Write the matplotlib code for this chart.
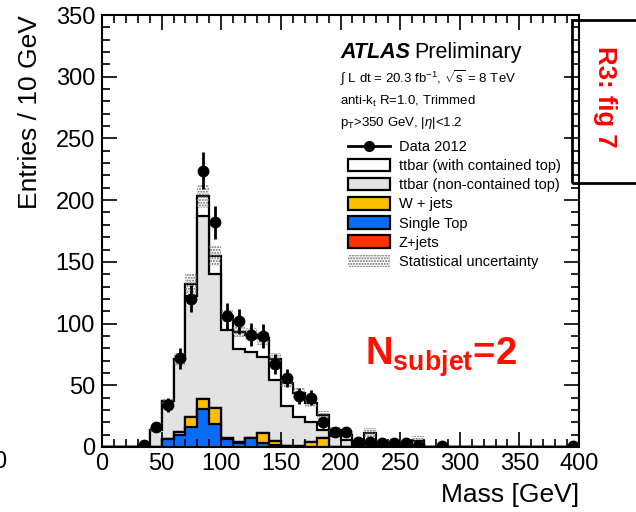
import numpy as np
import matplotlib
matplotlib.use("Agg")
import matplotlib.pyplot as plt
from matplotlib.patches import Patch, Rectangle
from matplotlib.lines import Line2D
from matplotlib.ticker import MultipleLocator

plt.rcParams['font.family'] = ['Liberation Sans', 'DejaVu Sans']
plt.rcParams['mathtext.fontset'] = 'custom'
plt.rcParams['mathtext.rm'] = 'Liberation Sans'
plt.rcParams['mathtext.it'] = 'Liberation Sans:italic'
plt.rcParams['mathtext.bf'] = 'Liberation Sans:bold'
plt.rcParams['hatch.linewidth'] = 1.0

# ---- data (10 GeV bins, 0-400 GeV) ----
edges = np.arange(0, 410, 10)

data_2012 = [0, 0, 0, 2, 16, 34, 72, 120, 224, 182,
             106, 102, 91, 90, 67, 56, 41, 40, 20, 12,
             12, 4, 4, 3, 3, 3, 1, 0, 1, 0,
             0, 0, 0, 0, 0, 0, 0, 0, 0, 1]

single_top = [0, 0, 0, 0, 0, 6.5, 10, 16.5, 31, 19,
              6.5, 3.5, 7, 3, 2, 0.5, 0, 0, 0, 0,
              0, 0, 0, 0, 0, 0, 0, 0, 0, 0,
              0, 0, 0, 0, 0, 0, 0, 0, 0, 0]

w_jets = [0, 0, 0, 0, 0, 0, 2.4, 8, 8, 12.6,
          0.5, 0.5, 0.5, 8, 3, 0.5, 0.5, 4, 7, 0,
          0, 0, 3, 0, 0, 0, 2, 0, 0, 0,
          0, 0, 0, 0, 0, 0, 0, 0, 0, 0]

z_jets = [0] * 40

ttbar_noncont = [0, 0, 0, 1, 14, 30.5, 58.6, 97.5, 148, 108.4,
                 88, 75, 69.5, 62, 49, 32, 23.5, 16.5, 7, 9,
                 6, 2, 0, 1, 1, 1, 0, 0, 0, 0,
                 0, 0, 0, 0, 0, 0, 0, 0, 0, 0]

ttbar_cont = [0, 0, 0, 0, 0, 0, 0, 10, 16, 15,
              11, 14, 14, 15, 17.5, 19, 20, 15, 12, 5,
              4, 1, 8, 0, 0, 0, 3, 0, 0, 0,
              0, 0, 0, 0, 0, 0, 0, 0, 0, 0]

stat_unc = [0, 0, 0, 0.5, 2, 3, 5, 8, 9, 8,
            5, 5, 5, 5, 5, 4, 4, 3, 3, 2,
            2, 1.5, 4, 1, 1, 1, 4, 0, 0, 0,
            0, 0, 0, 0, 0, 0, 0, 0, 0, 0]

legend_labels = ['Data 2012', 'ttbar (with contained top)', 'ttbar (non-contained top)',
                 'W + jets', 'Single Top', 'Z+jets', 'Statistical uncertainty']

# ---- stacking ----
c1 = np.array(single_top)
c2 = c1 + np.array(w_jets)
c3 = c2 + np.array(z_jets)
c4 = c3 + np.array(ttbar_noncont)
c5 = c4 + np.array(ttbar_cont)
err = np.array(stat_unc)
data = np.array(data_2012, dtype=float)
centers = 0.5 * (edges[:-1] + edges[1:])

fig = plt.figure(figsize=(6.36, 5.12), dpi=100)
ax = fig.add_axes([0.1604, 0.127, 0.750, 0.8437])

colors = ['white', '#e3e3e3', '#ff3300', '#ffbf00', '#0a6cf5']
for c, col in zip([c5, c4, c3, c2, c1], colors):
    ax.stairs(c, edges, baseline=0, fill=True, facecolor=col,
              edgecolor='black', lw=1.6)

ax.stairs(c5 + err, edges, baseline=c5 - err, fill=True, facecolor='none',
          edgecolor='#6e6e6e', hatch='......', lw=0)

m = data > 0
ax.errorbar(centers[m], data[m], yerr=np.sqrt(data[m]), fmt='o', color='black',
            ms=7.5, elinewidth=2, capsize=0, zorder=5)

ax.set_xlim(0, 400)
ax.set_ylim(0, 350)
ax.xaxis.set_major_locator(MultipleLocator(50))
ax.xaxis.set_minor_locator(MultipleLocator(10))
ax.yaxis.set_major_locator(MultipleLocator(50))
ax.yaxis.set_minor_locator(MultipleLocator(10))
ax.tick_params(which='both', direction='in', top=True, right=True,
               labelsize=17, width=1.2)
ax.tick_params(which='major', length=11)
ax.tick_params(which='minor', length=5.5)
ax.tick_params(axis='x', pad=4)
ax.tick_params(axis='y', pad=5)
for s in ax.spines.values():
    s.set_linewidth(1.5)

ax.set_xlabel('Mass [GeV]', fontsize=19, loc='right', labelpad=6)
ax.set_ylabel('Entries / 10 GeV', fontsize=19, loc='top', labelpad=10)

# ---- header text ----
fig.text(0.5346, 0.887, 'ATLAS', fontsize=15.5, fontweight='bold', style='italic', va='baseline')
fig.text(0.652, 0.887, 'Preliminary', fontsize=15.5, va='baseline')
fig.text(0.5346, 0.848, r'$\int$ L dt = 20.3 fb$^{-1}$, $\sqrt{\mathrm{s}}$ = 8 TeV', fontsize=9.5, va='center')
fig.text(0.5346, 0.801, r'anti-k$_{\mathrm{t}}$ R=1.0, Trimmed', fontsize=9.5, va='center')
fig.text(0.5346, 0.760, r'p$_{\mathrm{T}}$>350 GeV, |$\eta$|<1.2', fontsize=9.5, va='center')

# ---- legend ----
handles = [
    Line2D([], [], color='black', marker='o', ms=7, lw=2),
    Patch(facecolor=colors[0], edgecolor='black', lw=1.6),
    Patch(facecolor=colors[1], edgecolor='black', lw=1.6),
    Patch(facecolor=colors[3], edgecolor='black', lw=1.6),
    Patch(facecolor=colors[4], edgecolor='black', lw=1.6),
    Patch(facecolor=colors[2], edgecolor='black', lw=1.6),
    Patch(facecolor='none', edgecolor='#6e6e6e', hatch='......', lw=0),
]
fig.legend(handles, legend_labels, loc='upper left', bbox_to_anchor=(0.547, 0.726),
           frameon=False, fontsize=10.5, handlelength=2.9, handleheight=0.9,
           handletextpad=0.6, labelspacing=0.34, borderpad=0, borderaxespad=0)

# ---- annotations ----
fig.text(0.574, 0.287, r'$\mathbf{N}_{\mathbf{subjet}}$=2', fontsize=27.5,
         fontweight='bold', color='#ff1000', va='baseline')
fig.patches.append(Rectangle((0.8994, 0.6426), 0.2, 0.3184, transform=fig.transFigure,
                             facecolor='none', edgecolor='black', lw=2))
fig.text(0.951, 0.81, 'R3: fig 7', fontsize=18.5, fontweight='bold', color='red',
         rotation=270, ha='center', va='center')
fig.text(0.0, (512 - 462) / 512, '0', fontsize=17, ha='center', va='center')

fig.savefig('out.png', dpi=100)
